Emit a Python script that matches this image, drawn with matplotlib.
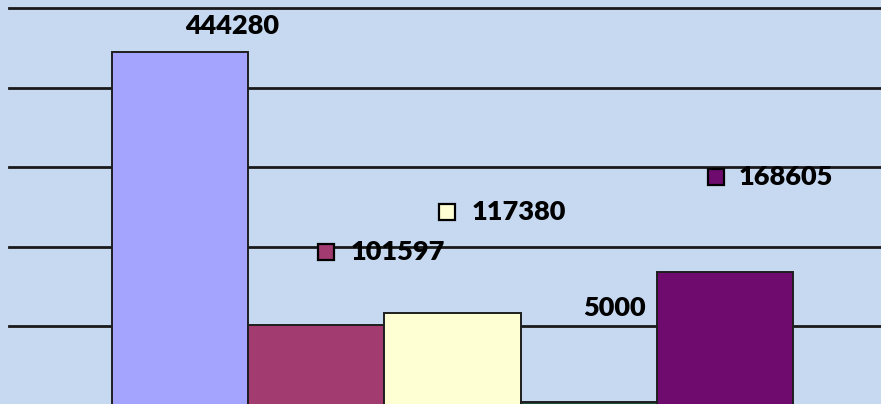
import matplotlib
matplotlib.use("Agg")
import matplotlib.pyplot as plt

# Data
values = [444280, 101597, 117380, 5000, 168605]
labels = ["444280", "101597", "117380", "5000", "168605"]
colors = ["#A4A4FF", "#A23B70", "#FFFFD4", "#1E4D3A", "#6F0B6E"]
gridvals = [100000, 200000, 300000, 400000, 500000]

W, H = 881, 404
fig = plt.figure(figsize=(W / 100, H / 100), dpi=100)
bg = "#C6D9F0"
fig.patch.set_facecolor(bg)

# axes: left edge at px 9, 0 at py 406, 500000 at py 8
ax = fig.add_axes([9 / W, (H - 406) / H, 890 / W, 398 / H])
ax.set_facecolor(bg)
ax.set_ylim(0, 500000)
unit = 136.2
xl = -0.5 - (112 - 9) / unit
ax.set_xlim(xl, xl + 890 / unit)

for g in gridvals:
    ax.axhline(g, color="#1a1a1a", lw=2.0, zorder=1, clip_on=False)

xs = list(range(len(values)))
ax.bar(xs, values, width=1.0, color=colors, edgecolor="#1e1e1e", linewidth=1.4, zorder=2)

for s in ax.spines.values():
    s.set_visible(False)
ax.set_xticks([])
ax.set_yticks([])

font = dict(family=["Lato", "DejaVu Sans"], weight="heavy", size=19.5, color="black")

def fp(px, py):
    return (px / W, 1 - py / H)

# labels (pixel positions from the reference)
fig.text(*fp(232, 26), labels[0], ha="center", va="center", **font)
fig.text(*fp(646, 308), labels[3], ha="right", va="center", **font)

key_items = [
    (1, 326, 252, 351),
    (2, 447, 212, 472),
    (4, 716, 177, 739),
]
for idx, sx, sy, tx in key_items:
    fig.lines.append(plt.Line2D([sx / W], [1 - sy / H], transform=fig.transFigure,
                                marker="s", markersize=11, markerfacecolor=colors[idx],
                                markeredgecolor="black", markeredgewidth=1.6, linestyle="none"))
    fig.text(*fp(tx, sy), labels[idx], ha="left", va="center", **font)

fig.savefig("out.png", dpi=100, facecolor=bg)
